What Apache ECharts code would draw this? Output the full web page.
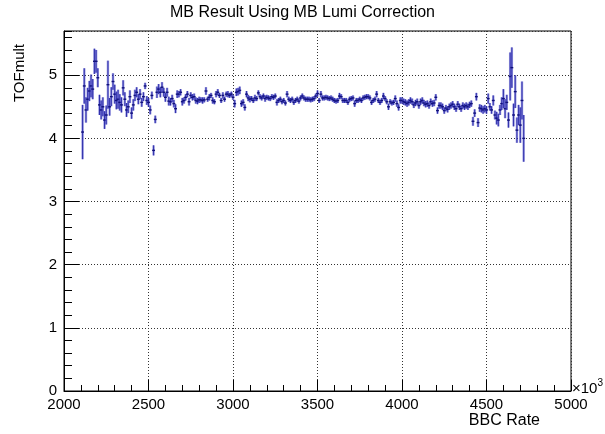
<!DOCTYPE html>
<html>
<head>
<meta charset="utf-8">
<script src="https://cdn.jsdelivr.net/npm/echarts@6/dist/echarts.min.js"></script>
<style>
html,body{margin:0;padding:0;background:#fff;}
#chart{width:605px;height:434px;}
</style>
</head>
<body>
<div id="chart"></div>
<script>
// Bin centres (BBC Rate, x10^3)
var binX = [
2110,2120,2130,2140,2150,2160,2170,2180,2190,2200,2210,2220,2230,2240,2250,2260,2270,2280,2290,2300,
2310,2320,2330,2340,2350,2360,2370,2380,2390,2400,2410,2420,2430,2440,2450,2460,2470,2480,2490,2500,
2510,2520,2530,2540,2550,2560,2570,2580,2590,2600,2610,2620,2630,2640,2650,2660,2670,2680,2690,2700,
2710,2720,2730,2740,2750,2760,2770,2780,2790,2800,2810,2820,2830,2840,2850,2860,2870,2880,2890,2900,
2910,2920,2930,2940,2950,2960,2970,2980,2990,3000,3010,3020,3030,3040,3050,3060,3070,3080,3090,3100,
3110,3120,3130,3140,3150,3160,3170,3180,3190,3200,3210,3220,3230,3240,3250,3260,3270,3280,3290,3300,
3310,3320,3330,3340,3350,3360,3370,3380,3390,3400,3410,3420,3430,3440,3450,3460,3470,3480,3490,3500,
3510,3520,3530,3540,3550,3560,3570,3580,3590,3600,3610,3620,3630,3640,3650,3660,3670,3680,3690,3700,
3710,3720,3730,3740,3750,3760,3770,3780,3790,3800,3810,3820,3830,3840,3850,3860,3870,3880,3890,3900,
3910,3920,3930,3940,3950,3960,3970,3980,3990,4000,4010,4020,4030,4040,4050,4060,4070,4080,4090,4100,
4110,4120,4130,4140,4150,4160,4170,4180,4190,4200,4210,4220,4230,4240,4250,4260,4270,4280,4290,4300,
4310,4320,4330,4340,4350,4360,4370,4380,4390,4400,4410,4420,4430,4440,4450,4460,4470,4480,4490,4500,
4510,4520,4530,4540,4550,4560,4570,4580,4590,4600,4610,4620,4630,4640,4650,4660,4670,4680,4690,4700,
4710,4720
];
// TOFmult mean per bin
var tofMult = [
4.10,4.83,4.45,4.62,4.75,4.83,4.78,5.22,5.22,4.96,4.53,4.45,4.50,4.29,4.37,4.85,4.50,4.66,4.90,4.70,
4.60,4.62,4.57,4.53,4.80,4.62,4.45,4.50,4.66,4.40,4.53,4.68,4.73,4.62,4.70,4.57,4.66,4.83,4.60,4.57,
4.45,4.68,3.81,4.30,
4.73,4.78,4.73,4.81,4.73,4.65,4.73,4.59,4.58,4.63,4.55,4.47,4.70,4.70,4.73,4.58,4.60,4.65,4.70,4.58,
4.68,4.65,4.66,4.60,4.59,4.61,4.61,4.60,4.61,4.75,4.62,4.65,4.68,4.60,4.58,4.70,4.73,4.68,4.60,4.68,
4.62,4.70,4.70,4.68,4.70,4.65,
4.55,4.73,4.74,4.76,4.55,4.57,4.49,4.70,4.64,4.62,4.63,4.60,4.64,4.63,4.72,4.66,4.64,4.67,4.63,4.65,
4.64,4.63,4.66,4.65,4.67,4.57,4.60,4.62,4.58,4.60,4.56,4.70,4.62,4.60,4.62,4.57,4.60,4.62,4.59,4.64,
4.67,4.64,4.62,4.62,4.62,4.61,4.62,4.63,4.67,4.71,
4.60,4.70,4.64,4.64,4.65,4.64,4.63,4.64,4.62,4.60,4.59,4.60,4.67,4.66,4.60,4.60,4.60,4.57,4.62,4.63,
4.64,4.55,4.60,4.60,4.62,4.60,4.64,4.65,4.66,4.66,4.64,4.57,4.60,4.62,4.70,4.60,4.57,4.60,4.67,4.63,
4.58,4.50,4.58,4.56,4.57,4.63,4.55,4.49,4.60,4.60,
4.58,4.57,4.55,4.57,4.60,4.58,4.53,4.56,4.58,4.52,4.58,4.60,4.56,4.54,4.55,4.52,4.58,4.55,4.56,4.65,
4.44,4.52,4.52,4.50,4.44,4.48,4.46,4.50,4.52,4.54,4.50,4.47,4.54,4.50,4.47,4.52,4.50,4.52,4.50,4.53,
4.55,4.27,4.40,4.66,4.25,4.48,4.47,4.45,
4.47,4.45,4.63,4.50,4.45,4.60,4.37,4.32,4.29,4.45,4.55,4.63,4.47,4.57,4.29,4.98,5.12,4.37,4.74,4.13,
4.37,4.21,4.60,4.00
];
// Error on the mean per bin
var tofErr = [
.43,.28,.20,.18,.16,.18,.16,.20,.18,.15,.16,.15,.15,.14,.15,.38,.14,.15,.13,.15,
.14,.15,.13,.12,.12,.11,.11,.10,.10,.09,.09,.09,.08,.08,.08,.07,.07,.05,.07,.07,
.07,.06,.08,.06,
.09,.08,.08,.08,.07,.07,.07,.07,.06,.06,.06,.07,.06,.05,.05,.06,.05,.05,.05,.06,
.05,.05,.05,.05,.05,.05,.04,.05,.04,.06,.04,.05,.04,.05,.04,.05,.05,.04,.04,.05,
.04,.04,.05,.04,.04,.04,
.06,.06,.06,.06,.05,.05,.05,.05,.05,.05,.04,.04,.05,.04,.04,.04,.04,.04,.05,.04,
.04,.04,.04,.04,.04,.05,.04,.04,.04,.04,.04,.05,.04,.04,.04,.04,.04,.04,.04,.04,
.04,.04,.04,.04,.04,.04,.04,.04,.04,.05,
.04,.05,.04,.04,.04,.04,.04,.04,.04,.04,.04,.04,.05,.04,.04,.04,.04,.04,.04,.04,
.04,.05,.04,.04,.04,.04,.04,.04,.04,.04,.04,.04,.04,.04,.05,.04,.04,.04,.05,.04,
.04,.05,.04,.04,.04,.05,.05,.05,.05,.05,
.05,.05,.05,.05,.05,.05,.05,.05,.05,.05,.05,.05,.05,.05,.05,.05,.05,.05,.05,.05,
.05,.05,.05,.05,.05,.05,.05,.05,.05,.05,.05,.05,.05,.05,.05,.05,.05,.05,.05,.05,
.05,.07,.06,.06,.07,.06,.06,.06,
.06,.06,.08,.06,.06,.08,.07,.10,.10,.08,.10,.15,.15,.12,.12,.38,.32,.18,.26,.20,
.16,.28,.30,.37
];
var xTicks = [2000, 2500, 3000, 3500, 4000, 4500, 5000];
var yTicks = [0, 1, 2, 3, 4, 5];

var FONT = "'Liberation Sans', Arial, Helvetica, sans-serif";
var chart = echarts.init(document.getElementById('chart'), null, {renderer: 'canvas'});
var data = binX.map(function (x, i) { return [x, tofMult[i], tofErr[i]]; });

var option = {
  animation: false,
  backgroundColor: '#fff',
  grid: {left: 64, right: 34, top: 31, bottom: 43, show: true, borderColor: '#000', borderWidth: 1, containLabel: false},
  xAxis: [{
    type: 'value', min: xTicks[0], max: xTicks[xTicks.length - 1], interval: 500,
    axisLine: {lineStyle: {color: '#000', width: 1}},
    axisTick: {inside: true, length: 11, lineStyle: {color: '#000'}},
    minorTick: {show: true, splitNumber: 5, length: 6, lineStyle: {color: '#000'}},
    axisLabel: {color: '#000', fontFamily: FONT, fontSize: 15, margin: 6,
      formatter: function (v) { return String(v); }},
    splitLine: {show: true, lineStyle: {color: '#333', type: [1, 2], width: 1}}
  }],
  yAxis: [{
    type: 'value', min: 0, max: 5.7, interval: 1,
    axisLine: {lineStyle: {color: '#000', width: 1}},
    axisTick: {inside: true, length: 15, lineStyle: {color: '#000'}},
    axisLabel: {color: '#000', fontFamily: FONT, fontSize: 15, margin: 7, showMaxLabel: false,
      formatter: function (v) { return yTicks.indexOf(v) >= 0 ? String(v) : ''; }},
    splitLine: {show: true, lineStyle: {color: '#333', type: [1, 2], width: 1}}
  }, {
    type: 'value', min: 0, max: 5.7, interval: 0.2, position: 'left', offset: 0,
    axisLine: {show: false},
    axisTick: {inside: true, length: 8, lineStyle: {color: '#000'}},
    axisLabel: {show: false},
    splitLine: {show: false}
  }],
  series: [{
    type: 'custom',
    xAxisIndex: 0, yAxisIndex: 0,
    clip: true,
    data: data,
    renderItem: function (params, api) {
      var x = api.value(0), y = api.value(1), e = api.value(2);
      var c = api.coord([x, y]);
      var t = api.coord([x, y + e]);
      var b = api.coord([x, y - e]);
      var hw = api.size([10, 0])[0] / 2 + 0.6;
      return {
        type: 'group',
        children: [
          {type: 'line', shape: {x1: c[0], y1: t[1], x2: c[0], y2: b[1]},
            style: {stroke: 'rgba(70,70,200,0.55)', lineWidth: 2.4}},
          {type: 'line', shape: {x1: c[0], y1: t[1], x2: c[0], y2: b[1]},
            style: {stroke: '#2424a5', lineWidth: 0.9}},
          {type: 'line', shape: {x1: c[0] - hw, y1: c[1], x2: c[0] + hw, y2: c[1]},
            style: {stroke: '#10107a', lineWidth: 1.4}}
        ]
      };
    }
  }],
  graphic: [
    {type: 'text', left: 'center', top: 5,
      style: {text: 'MB Result Using MB Lumi Correction', font: '16px ' + FONT, fill: '#000'}},
    {type: 'text', right: 65, top: 413,
      style: {text: 'BBC Rate', font: '16px ' + FONT, fill: '#000'}},
    {type: 'text', left: 572, top: 378,
      style: {
        text: '{a|\u00d710}{b|3}',
        rich: {
          a: {font: '15px ' + FONT, fill: '#000', verticalAlign: 'bottom'},
          b: {font: '10px ' + FONT, fill: '#000', verticalAlign: 'top', padding: [0, 0, 8, 0]}
        }
      }},
    {type: 'text', x: 20, y: 73, rotation: Math.PI / 2,
      style: {text: 'TOFmult', font: '15px ' + FONT, fill: '#000', align: 'center', verticalAlign: 'middle'}}
  ]
};
chart.setOption(option);
</script>
</body>
</html>
